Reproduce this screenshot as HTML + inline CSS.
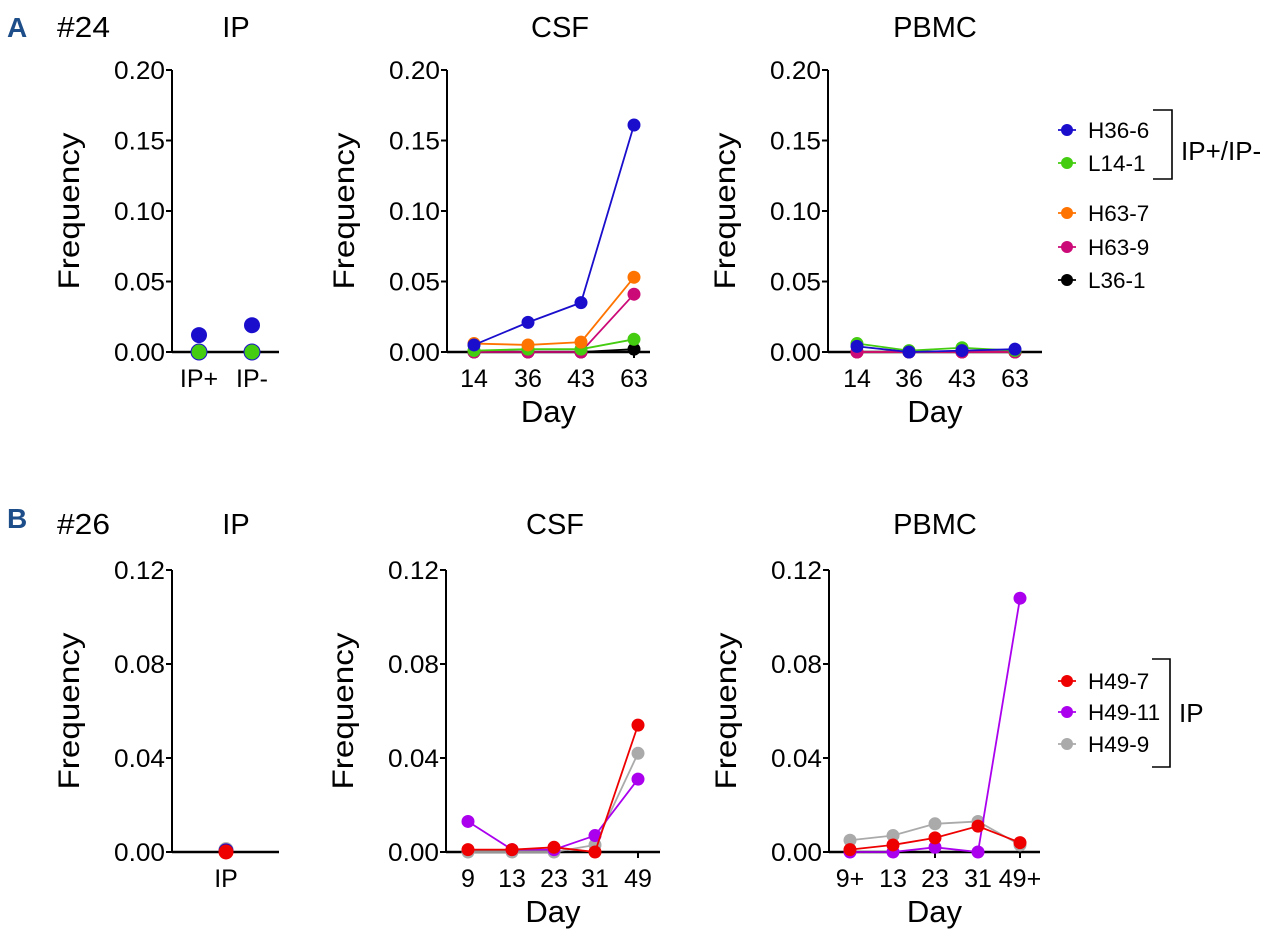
<!DOCTYPE html>
<html><head><meta charset="utf-8"><style>
body{margin:0;background:#fff;}
svg{display:block;font-family:"Liberation Sans",Arial,sans-serif;}
</style></head><body>
<svg id="fig" width="1275" height="949" viewBox="0 0 1275 949"></svg>
<script>
const topTicks=[0,0.05,0.10,0.15,0.20];
const topTickLabels=["0.00","0.05","0.10","0.15","0.20"];
const botTicks=[0,0.04,0.08,0.12];
const botTickLabels=["0.00","0.04","0.08","0.12"];
const topIPCats=["IP+","IP-"];
const topDays=["14","36","43","63"];
const botCSFDays=["9","13","23","31","49"];
const botPBMCDays=["9+","13","23","31","49+"];
const topIP_H36_6=[0.012,0.019];
const topIP_L14_1=[0,0];
const topCSF_L36_1=[0,0,0,0.002];
const topCSF_H63_9=[0,0,0,0.041];
const topCSF_L14_1=[0.001,0.002,0.002,0.009];
const topCSF_H63_7=[0.006,0.005,0.007,0.053];
const topCSF_H36_6=[0.005,0.021,0.035,0.161];
const topPBMC_L36_1=[0,0,0,0];
const topPBMC_H63_7=[0,0,0,0];
const topPBMC_H63_9=[0,0,0,0];
const topPBMC_L14_1=[0.006,0.001,0.003,0.001];
const topPBMC_H36_6=[0.004,0,0.001,0.002];
const botIP_H49_9=[0.001];
const botIP_H49_11=[0.0005];
const botIP_H49_7=[0];
const botCSF_H49_9=[0,0,0,0.003,0.042];
const botCSF_H49_11=[0.013,0.001,0.001,0.007,0.031];
const botCSF_H49_7=[0.001,0.001,0.002,0,0.054];
const botPBMC_H49_9=[0.005,0.007,0.012,0.013,0.003];
const botPBMC_H49_11=[0,0,0.002,0,0.108];
const botPBMC_H49_7=[0.001,0.003,0.006,0.011,0.004];

const C={H36_6:"#1a0ecc",L14_1:"#44cc11",H63_7:"#ff7300",H63_9:"#cc0a77",L36_1:"#000",H49_7:"#ee0000",H49_11:"#aa00ee",H49_9:"#aaaaaa"};
const svg=document.getElementById('fig');
const NS="http://www.w3.org/2000/svg";
function el(tag,attrs,parent){const e=document.createElementNS(NS,tag);for(const k in attrs)e.setAttribute(k,attrs[k]);(parent||svg).appendChild(e);return e;}
function txt(x,y,s,size,anchor,name,extra){const t=el('text',Object.assign({x:x,y:y,'font-size':size,'text-anchor':anchor||'middle',fill:'#000'},extra||{}));t.textContent=s;


return t;}

function panel(name,ax,x0,xEnd,y0,yTop,ymax,ticks,tickLabels,cats,xs,series,r,showDay,lines){
  const g=el('g',{});
  
  
  const yS=v=>y0-(v/ymax)*(y0-yTop);
  el('line',{x1:ax,y1:yTop,x2:ax,y2:y0,stroke:'#000','stroke-width':2},g);
  el('line',{x1:ax,y1:y0,x2:xEnd,y2:y0,stroke:'#000','stroke-width':2.5},g);
  ticks.forEach((t,i)=>{const y=yS(t);el('line',{x1:ax-6,y1:y,x2:ax,y2:y,stroke:'#000','stroke-width':2},g);
    txt(ax-7,y+9,tickLabels[i],25,'end','y-tick-label',{textLength:51,lengthAdjust:'spacingAndGlyphs'});});
  cats.forEach((c,i)=>{el('line',{x1:xs[i],y1:y0,x2:xs[i],y2:y0+6,stroke:'#000','stroke-width':2},g);
    txt(xs[i],y0+35,c,25,'middle','x-tick-label');});
  const midY=(y0+yTop)/2;
  txt(0,0,'Frequency',30,'middle','y-axis-title',{transform:`translate(${ax-93},${midY}) rotate(-90)`,textLength:157,lengthAdjust:'spacingAndGlyphs'});
  if(showDay) txt((ax+xEnd)/2,y0+70,'Day',31,'middle','x-axis-title');
  series.forEach(s=>{
    const pts=s.v.map((v,i)=>[xs[i],yS(v)]);
    if(lines&&pts.length>1){const l=el('polyline',{points:pts.map(p=>p.join(',')).join(' '),fill:'none',stroke:s.c,'stroke-width':1.8},g);
      
      }
    pts.forEach(p=>{const c=el('circle',{cx:p[0],cy:p[1],r:r,fill:s.c,stroke:s.stroke||'none','stroke-width':1},g);
      
      });
  });
}
const tY0=352,tYT=70,bY0=852,bYT=570;
panel('top-ip-panel',172,172,279,tY0,tYT,0.2,topTicks,topTickLabels,topIPCats,[199,252],
 [{n:'h36-6',v:topIP_H36_6,c:C.H36_6},{n:'l14-1',v:topIP_L14_1,c:C.L14_1,stroke:'#1a0ecc'}],8,false,false);
panel('top-csf-panel',447,447,650,tY0,tYT,0.2,topTicks,topTickLabels,topDays,[474,528,581,634],
 [{n:'l36-1',v:topCSF_L36_1,c:C.L36_1},{n:'h63-9',v:topCSF_H63_9,c:C.H63_9},{n:'l14-1',v:topCSF_L14_1,c:C.L14_1},{n:'h63-7',v:topCSF_H63_7,c:C.H63_7},{n:'h36-6',v:topCSF_H36_6,c:C.H36_6}],6.5,true,true);
panel('top-pbmc-panel',828,828,1042,tY0,tYT,0.2,topTicks,topTickLabels,topDays,[857,909,962,1015],
 [{n:'l36-1',v:topPBMC_L36_1,c:C.L36_1},{n:'h63-7',v:topPBMC_H63_7,c:C.H63_7},{n:'h63-9',v:topPBMC_H63_9,c:C.H63_9},{n:'l14-1',v:topPBMC_L14_1,c:C.L14_1},{n:'h36-6',v:topPBMC_H36_6,c:C.H36_6}],6.5,true,true);
panel('bottom-ip-panel',172,172,279,bY0,bYT,0.12,botTicks,botTickLabels,["IP"],[226],
 [{n:'h49-9',v:botIP_H49_9,c:C.H49_9},{n:'h49-11',v:botIP_H49_11,c:'#1a0ecc'},{n:'h49-7',v:botIP_H49_7,c:C.H49_7}],7.5,false,false);
panel('bottom-csf-panel',446,446,660,bY0,bYT,0.12,botTicks,botTickLabels,botCSFDays,[468,512,554,595,638],
 [{n:'h49-9',v:botCSF_H49_9,c:C.H49_9},{n:'h49-11',v:botCSF_H49_11,c:C.H49_11},{n:'h49-7',v:botCSF_H49_7,c:C.H49_7}],6.5,true,true);
panel('bottom-pbmc-panel',829,829,1040,bY0,bYT,0.12,botTicks,botTickLabels,botPBMCDays,[850,893,935,978,1020],
 [{n:'h49-9',v:botPBMC_H49_9,c:C.H49_9},{n:'h49-11',v:botPBMC_H49_11,c:C.H49_11},{n:'h49-7',v:botPBMC_H49_7,c:C.H49_7}],6.5,true,true);

// titles
txt(7,37,'A',28,'start','panel-label-a',{'font-weight':'bold',fill:'#1d4e89'});
txt(57,37,'#24',29,'start','patient-24-label',{textLength:53,lengthAdjust:'spacingAndGlyphs'});
txt(236,37,'IP',29,'middle','top-ip-title');
txt(560,37,'CSF',29,'middle','top-csf-title');
txt(935,37,'PBMC',29,'middle','top-pbmc-title');
txt(7,528,'B',28,'start','panel-label-b',{'font-weight':'bold',fill:'#1d4e89'});
txt(57,534,'#26',29,'start','patient-26-label',{textLength:53,lengthAdjust:'spacingAndGlyphs'});
txt(236,534,'IP',29,'middle','bottom-ip-title');
txt(555,534,'CSF',29,'middle','bottom-csf-title');
txt(935,534,'PBMC',29,'middle','bottom-pbmc-title');

// legends
function legend(name,items,x,ys,bracketX,by1,by2,label,labelY,bracketLeft){
  items.forEach((it,i)=>{
    const y=ys[i];
    el('line',{x1:x-9,y1:y,x2:x+9,y2:y,stroke:it.c,'stroke-width':1.8});
    const c=el('circle',{cx:x,cy:y,r:6,fill:it.c});
    
    
    txt(x+21,y+8,it.label,22.5,'start','legend-entry-'+it.n);
  });
  el('polyline',{points:`${bracketLeft},${by1} ${bracketX},${by1} ${bracketX},${by2} ${bracketLeft},${by2}`,fill:'none',stroke:'#000','stroke-width':1.6});
  txt(bracketX+9,labelY,label,26,'start',name+'-bracket-label');
}
legend('top-legend',[{n:'h36-6',label:'H36-6',c:C.H36_6},{n:'l14-1',label:'L14-1',c:C.L14_1},{n:'h63-7',label:'H63-7',c:C.H63_7},{n:'h63-9',label:'H63-9',c:C.H63_9},{n:'l36-1',label:'L36-1',c:C.L36_1}],
 1067,[130,163,213,247,280],1172,110,179,'IP+/IP-',160,1153);
legend('bottom-legend',[{n:'h49-7',label:'H49-7',c:C.H49_7},{n:'h49-11',label:'H49-11',c:C.H49_11},{n:'h49-9',label:'H49-9',c:C.H49_9}],
 1067,[681,712,744],1170,659,767,'IP',722,1152);
</script>
</body></html>
